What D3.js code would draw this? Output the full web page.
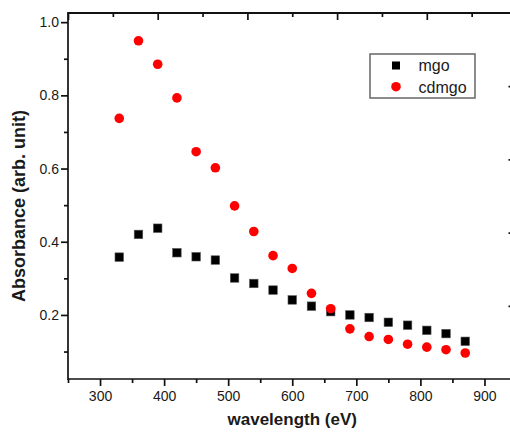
<!DOCTYPE html>
<html><head><meta charset="utf-8">
<script src="https://cdn.jsdelivr.net/npm/d3@7"></script>
<style>
html,body{margin:0;padding:0;background:#fff;}
svg{display:block;}
text{font-family:"Liberation Sans",Arial,sans-serif;fill:#1a1a1a;}
</style></head>
<body><svg id="c" width="510" height="433"></svg>
<script>
const wavelength = [330,360,390,420,450,480,510,540,570,600,630,660,690,720,750,780,810,840,870];
const mgo   = [0.358,0.420,0.437,0.370,0.359,0.350,0.301,0.286,0.268,0.241,0.224,0.209,0.200,0.193,0.180,0.172,0.158,0.149,0.128];
const cdmgo = [0.737,0.949,0.885,0.793,0.646,0.602,0.498,0.428,0.362,0.327,0.259,0.217,0.162,0.141,0.133,0.120,0.112,0.105,0.096];
const seriesNames = ["mgo","cdmgo"];
const xTicks = [300,400,500,600,700,800,900];
const xMinor = [250,350,450,550,650,750,850,950];
const yTicks = [0.2,0.4,0.6,0.8,1.0];
const yMinor = [0.1,0.3,0.5,0.7,0.9];
const topTicks = [0,1,2,3,4,5];
const topMinor = [0.5,1.5,2.5,3.5,4.5];
const rightTicks = [0.225,0.425,0.625,0.825];
const xTitle = "wavelength (eV)";
const yTitle = "Absorbance (arb. unit)";

const svg = d3.select("#c");
const L = 68, R = 516.5, T = 13, B = 379;
const x = d3.scaleLinear().domain([250,950]).range([L,R]);
const y = d3.scaleLinear().domain([0.025,1.025]).range([B,T]);
const xTop = d3.scaleLinear().domain([0,5]).range([L,R]);

const axStroke = "#111", axW = 1.7;
function styleAxis(g){
  g.select(".domain").remove();
  g.selectAll("line").attr("stroke",axStroke).attr("stroke-width",axW);
  g.selectAll("text").attr("font-size",14).attr("fill","#1a1a1a").attr("font-family","Liberation Sans, Arial, sans-serif");
}
// bottom
svg.append("g").attr("transform",`translate(0,${B})`)
  .call(d3.axisBottom(x).tickValues(xTicks).tickSize(7).tickPadding(5).tickFormat(d3.format("d"))).call(styleAxis);
svg.append("g").attr("transform",`translate(0,${B})`)
  .call(d3.axisBottom(x).tickValues(xMinor).tickSize(4).tickFormat("")).call(styleAxis);
// left
svg.append("g").attr("transform",`translate(${L},0)`)
  .call(d3.axisLeft(y).tickValues(yTicks).tickSize(7).tickPadding(2).tickFormat(d3.format(".1f"))).call(styleAxis);
svg.append("g").attr("transform",`translate(${L},0)`)
  .call(d3.axisLeft(y).tickValues(yMinor).tickSize(4).tickFormat("")).call(styleAxis);
// top (inward)
svg.append("g").attr("transform",`translate(0,${T})`)
  .call(d3.axisTop(xTop).tickValues(topTicks).tickSize(-7).tickFormat("")).call(styleAxis);
svg.append("g").attr("transform",`translate(0,${T})`)
  .call(d3.axisTop(xTop).tickValues(topMinor).tickSize(-4).tickFormat("")).call(styleAxis);
// right (inward)
svg.append("g").attr("transform",`translate(${R},0)`)
  .call(d3.axisRight(y).tickValues(rightTicks).tickSize(-8).tickFormat("")).call(styleAxis);

// frame
svg.append("line").attr("x1",L).attr("x2",L).attr("y1",T-1).attr("y2",B+1).attr("stroke",axStroke).attr("stroke-width",axW);
svg.append("line").attr("x1",L).attr("x2",R).attr("y1",B).attr("y2",B).attr("stroke",axStroke).attr("stroke-width",axW);
svg.append("line").attr("x1",L).attr("x2",R).attr("y1",T).attr("y2",T).attr("stroke",axStroke).attr("stroke-width",2.2);
svg.append("line").attr("x1",R).attr("x2",R).attr("y1",T).attr("y2",B).attr("stroke",axStroke).attr("stroke-width",axW);

// points
const sq = 8.5, cr = 4.8;
svg.append("g").selectAll("rect").data(wavelength.map((w,i)=>[w,mgo[i]])).join("rect")
  .attr("x",d=>x(d[0])-sq/2).attr("y",d=>y(d[1])-sq/2).attr("width",sq).attr("height",sq)
  .attr("fill","#000").attr("stroke","#555").attr("stroke-width",0.6);
svg.append("g").selectAll("circle").data(wavelength.map((w,i)=>[w,cdmgo[i]])).join("circle")
  .attr("cx",d=>x(d[0])).attr("cy",d=>y(d[1])).attr("r",cr).attr("fill","#ff0000");

// titles
svg.append("text").attr("x",(L+R)/2).attr("y",425).attr("text-anchor","middle")
  .attr("font-size",17).attr("font-weight","bold").text(xTitle);
svg.append("text").attr("transform",`translate(25,206) rotate(-90)`).attr("text-anchor","middle")
  .attr("font-size",18).attr("font-weight","bold").text(yTitle);

// legend
const lg = svg.append("g");
lg.append("rect").attr("x",370).attr("y",54).attr("width",105).attr("height",44)
  .attr("fill","#fff").attr("stroke","#666").attr("stroke-width",1.5);
lg.append("rect").attr("x",396-4).attr("y",65.5-4).attr("width",8).attr("height",8).attr("fill","#000");
lg.append("circle").attr("cx",396).attr("cy",86.7).attr("r",4.8).attr("fill","#ff0000");
lg.append("text").attr("x",418.5).attr("y",71).attr("font-size",16).text(seriesNames[0]);
lg.append("text").attr("x",418.5).attr("y",92.5).attr("font-size",16).text(seriesNames[1]);
</script></body></html>
